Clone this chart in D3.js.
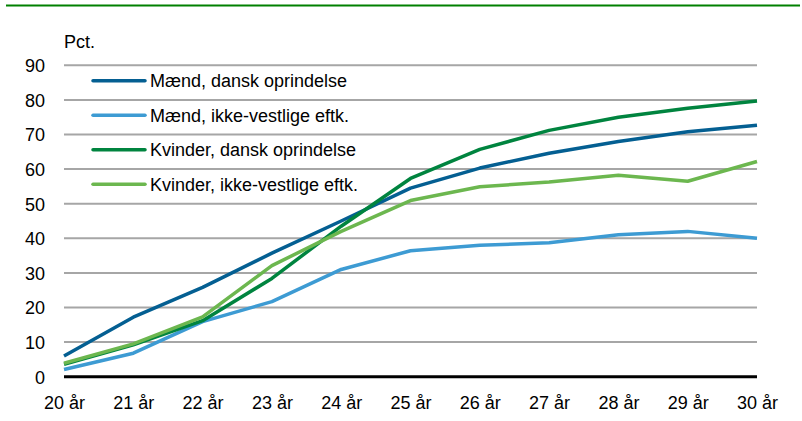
<!DOCTYPE html>
<html><head><meta charset="utf-8">
<script src="https://cdn.jsdelivr.net/npm/d3@7"></script>
<style>
body{margin:0;background:#fff;}
text{font-family:"Liberation Sans","Arial",sans-serif;fill:#000;}
</style></head>
<body><svg id="c" width="802" height="421"></svg>
<script>
const categories = ["20 år","21 år","22 år","23 år","24 år","25 år","26 år","27 år","28 år","29 år","30 år"];
const maendDansk   = [6.0,17.2,25.8,35.7,45.0,54.5,60.3,64.6,68.0,70.8,72.7];
const maendIkke    = [2.1,6.8,15.9,21.7,31.0,36.4,38.0,38.7,41.0,42.0,40.0];
const kvinderDansk = [3.6,9.2,16.2,28.4,43.5,57.3,65.7,71.2,75.0,77.6,79.7];
const kvinderIkke  = [3.9,9.5,17.3,32.1,42.0,50.9,54.9,56.3,58.2,56.5,62.2];
const seriesNames  = ["Mænd, dansk oprindelse","Mænd, ikke-vestlige eftk.","Kvinder, dansk oprindelse","Kvinder, ikke-vestlige eftk."];
const seriesColors = ["#045f92","#3d9bd3","#00843f","#6cb74f"];
const yTicks = [0,10,20,30,40,50,60,70,80,90];
const unitLabel = "Pct.";

const series = [maendDansk, maendIkke, kvinderDansk, kvinderIkke];
const svg = d3.select("#c");
const mLeft = 64, mRight = 757, mTop = 65.3, mBottom = 376.7;
const fs = 18;

svg.append("line").attr("x1",6).attr("x2",800).attr("y1",5.5).attr("y2",5.5)
  .attr("stroke","#008000").attr("stroke-width",2);

const x = d3.scalePoint().domain(categories).range([mLeft,mRight]);
const y = d3.scaleLinear().domain([0,90]).range([mBottom,mTop]);

// grid
svg.append("g").selectAll("line").data(yTicks.filter(d=>d>0)).join("line")
  .attr("x1",mLeft).attr("x2",mRight).attr("y1",d=>y(d)).attr("y2",d=>y(d))
  .attr("stroke","#a6a6a6").attr("stroke-width",2);

// y labels
const yAxis = d3.axisLeft(y).tickValues(yTicks).tickSize(0).tickPadding(0);
const gy = svg.append("g").attr("transform",`translate(${mLeft-19},0)`).call(yAxis);
gy.select(".domain").remove();
gy.attr("font-family",null).attr("font-size",null);
gy.selectAll("text").attr("font-size",fs).attr("fill","#000").attr("dy","0.36em");

svg.append("text").attr("x",mLeft).attr("y",48).attr("font-size",fs).text(unitLabel);

// x axis
const xAxis = d3.axisBottom(x).tickSize(0).tickPadding(0);
const gx = svg.append("g").attr("transform",`translate(0,${mBottom})`).call(xAxis);
gx.select(".domain").remove();
gx.attr("font-family",null).attr("font-size",null);
gx.selectAll("text").attr("font-size",fs).attr("fill","#000").attr("dy",0).attr("y",32);

// lines
const line = d3.line().x((d,i)=>x(categories[i])).y(d=>y(d));
series.forEach((s,i)=>{
  svg.append("path").datum(s).attr("d",line).attr("fill","none")
    .attr("stroke",seriesColors[i]).attr("stroke-width",3.5).attr("stroke-linejoin","round");
});

// zero axis
svg.append("line").attr("x1",mLeft).attr("x2",mRight).attr("y1",mBottom).attr("y2",mBottom)
  .attr("stroke","#000").attr("stroke-width",3);

// legend
const lg = svg.append("g");
seriesNames.forEach((n,i)=>{
  const ly = 80.7 + i*34.5;
  lg.append("line").attr("x1",93).attr("x2",145).attr("y1",ly).attr("y2",ly)
    .attr("stroke",seriesColors[i]).attr("stroke-width",3.5).attr("stroke-linecap","round");
  lg.append("text").attr("x",150).attr("y",ly).attr("dy","0.36em").attr("font-size",fs).text(n);
});
</script></body></html>
